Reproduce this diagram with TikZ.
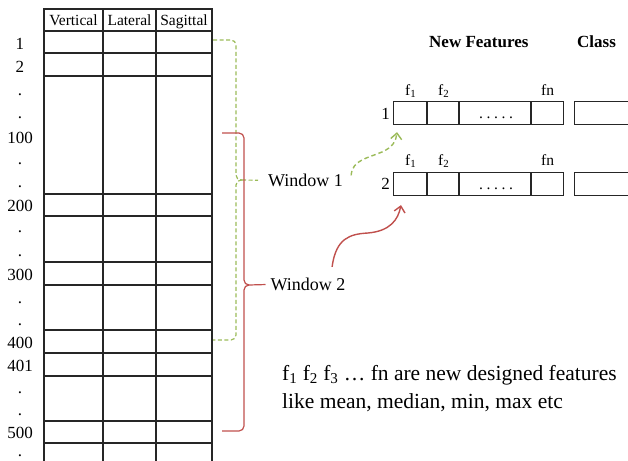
\documentclass[tikz,border=0pt]{standalone}
\usepackage{fontspec}
\setmainfont{Liberation Serif}
\usetikzlibrary{arrows.meta,calc}
\definecolor{wgreen}{HTML}{9BBB59}
\definecolor{wred}{HTML}{C0504D}
\tikzset{
  grid/.style={line width=1.1pt, draw=black!85},
  hdr/.style={font=\fontsize{15.5}{18}\selectfont, inner sep=0pt, anchor=base},
  rowlab/.style={font=\fontsize{17}{20}\selectfont, inner sep=0pt, anchor=base},
  wintext/.style={font=\fontsize{18}{21}\selectfont, inner sep=0pt, anchor=base west},
  headbold/.style={font=\fontsize{17}{20}\selectfont\bfseries, inner sep=0pt, anchor=base west},
  flab/.style={font=\fontsize{15.5}{18}\selectfont, inner sep=0pt, anchor=base west},
  featbox/.style={draw=black!85, line width=1.1pt, inner sep=0pt, anchor=north west, minimum height=23pt},
  note/.style={font=\fontsize{21.5}{28}\selectfont, inner sep=0pt, anchor=base west, align=left},
  gbrace/.style={draw=wgreen, line width=1.2pt, dash pattern=on 4pt off 2.5pt},
  rbrace/.style={draw=wred, line width=1.2pt},
  tip/.style={-{Straight Barb[length=6pt,width=11pt]}, line width=1.4pt},
}
\begin{document}
\begin{tikzpicture}[x=1pt,y=-1pt]
\useasboundingbox (0,0) rectangle (628,460);
\clip (0,0) rectangle (628,460);

% ---- data table ----
\draw[grid] (44,9) rectangle (212,480);
\draw[grid] (103,9) -- (103,480);
\draw[grid] (156,9) -- (156,480);
\foreach \y in {31,53,76,194,216,262,285,330,353,376,421,443}
  \draw[grid] (44,\y) -- (212,\y);

\node[hdr] (hv) at (73.5,26) {Vertical};
\node[hdr] (hl) at (129.5,26) {Lateral};
\node[hdr] (hs) at (184,26) {Sagittal};

% row indices
\foreach \t/\y in {1/49,2/72,100/143,200/211,300/280,400/348,401/371,500/438}
  \node[rowlab] (r\t) at (20,\y) {\t};
\foreach \y [count=\i] in {94,117,163,186,231,255,302,324,392,414,455}
  \node[rowlab] (d\i) at (20,\y+1.5) {.};

% ---- window labels ----
\node[wintext] (w1) at (268,186.5) {Window 1};
\node[wintext] (w2) at (270.5,290.5) {Window 2};

% window 1 brace (rows 1 .. 400)
\draw[gbrace, rounded corners=5pt] (213,40) -| (236,180) -- (242,180);
\draw[gbrace, rounded corners=5pt] (242,180) -| (236,340) -- (213,340);
\draw[gbrace, shorten >=10pt] (242,180) -- (w1.west);

% window 2 brace (rows 100 .. 500)
\draw[rbrace, rounded corners=5pt] (222,133) -| (244,285) -- (249,285);
\draw[rbrace, rounded corners=5pt] (249,285) -| (244,431) -- (222,431);
\draw[rbrace, shorten >=5pt] (249,285) -- (w2.west);

% ---- new feature vectors ----
\node[headbold] (hnf) at (429,48) {New Features};
\node[headbold] (hcl) at (577,48) {Class};

\node[featbox, minimum width=170pt] (b1) at (393,101) {};
\node[featbox, minimum width=80pt] (c1) at (574,101) {};
\node[featbox, minimum width=170pt] (b2) at (393,172) {};
\node[featbox, minimum width=80pt] (c2) at (574,172) {};
\foreach \b in {b1,b2}{
  \foreach \dx in {34,66,138}
    \draw[grid] ($(\b.north west)+(\dx,0)$) -- ($(\b.south west)+(\dx,0)$);
}
\node[flab, anchor=base] (dots1) at (496,118) {.\hspace{3.6pt}.\hspace{3.6pt}.\hspace{3.6pt}.\hspace{3.6pt}.};
\node[flab, anchor=base] (dots2) at (496,189) {.\hspace{3.6pt}.\hspace{3.6pt}.\hspace{3.6pt}.\hspace{3.6pt}.};

\node[rowlab, anchor=base east] (n1) at (390,119) {1};
\node[rowlab, anchor=base east] (n2) at (390,189) {2};

\node[flab] (f11) at (405,95) {f\textsubscript{1}};
\node[flab] (f12) at (438,95) {f\textsubscript{2}};
\node[flab] (f1n) at (541,95) {fn};
\node[flab] (f21) at (405,165.5) {f\textsubscript{1}};
\node[flab] (f22) at (438,165.5) {f\textsubscript{2}};
\node[flab] (f2n) at (541,165.5) {fn};

% ---- windows mapped to feature rows ----
\draw[tip, draw=wgreen, dash pattern=on 4.5pt off 3pt]
  ($(w1.east)+(8,-5)$) .. controls (352,160) and (368,158) .. (382,152)
  .. controls (393,147) and (396,141) .. ($(b1.south west)+(4,7)$);
\draw[tip, draw=wred]
  ($(w2.north)+(24,-11)$) .. controls (336,238) and (350,234) .. (368,233)
  .. controls (390,231) and (398,220) .. ($(b2.south west)+(8,9)$);

% ---- note (base anchor sits on the last line) ----
\node[note] (nt) at (282,408) {f\textsubscript{1} f\textsubscript{2} f\textsubscript{3} … fn are new designed features\\like mean, median, min, max etc};
\end{tikzpicture}
\end{document}
